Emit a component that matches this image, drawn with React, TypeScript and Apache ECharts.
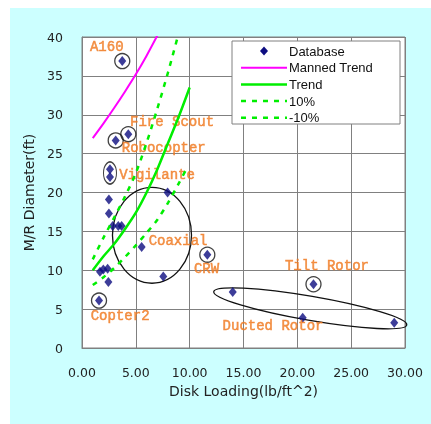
import React, { useEffect, useRef } from 'react';
import * as echarts from 'echarts';

// Rotor database: disk loading (lb/ft^2) vs main-rotor diameter (ft)
const diskLoading = [3.74, 3.13, 4.3, 2.6, 2.6, 7.95, 2.5, 2.5, 2.85, 3.37, 3.68, 5.54, 11.64, 1.67, 1.98, 2.38, 2.45, 7.55, 1.58, 14.0, 21.5, 20.5, 29.0];
const rotorDiameter = [36.9, 26.7, 27.5, 23.0, 22.0, 20.0, 19.1, 17.3, 15.7, 15.7, 15.7, 13.0, 12.0, 9.8, 10.1, 10.2, 8.5, 9.2, 6.1, 7.2, 8.2, 3.9, 3.25];

// Circled reference aircraft
const circledX = [3.74, 3.13, 4.3, 11.64, 1.58, 21.5];
const circledY = [36.9, 26.7, 27.5, 12.0, 6.1, 8.2];

// Trend curves [disk loading, diameter]
const mannedTrend = [[1, 27.0], [2, 28.9], [3, 30.9], [4, 33.0], [5, 35.2], [6, 37.6], [7, 40.2]];
const trend = [[1, 10.0], [2, 11.8], [3, 13.4], [4, 15.3], [5, 17.4], [6, 20.0], [7, 23.0], [8, 26.4], [9, 29.8], [10, 33.5]];
const plus10 = [[1, 11.4], [2, 14.2], [3, 16.8], [4, 19.5], [5, 22.5], [6, 26.4], [7, 30.8], [8, 35.5], [9, 40.6]];
const minus10 = [[1, 8.1], [2, 9.1], [3, 10.3], [4, 11.7], [5, 13.2], [6, 14.8], [7, 16.5], [8, 18.7], [9, 21.2], [9.8, 23.3]];

// Group outlines: centre (x, y), semi-axes in data units, tilt in degrees
const groupEllipses = [
  [6.5, 14.5, 3.67, 6.17, 0],
  [21.2, 5.1, 9.1, 1.55, -9.8],
];
// Vigilante pair outline centre
const vigilanteCentre = [[2.6, 22.5]];

// Aircraft names, anchored at their left edge
const annotations = [
  { name: 'A160', x: 0.74, y: 38.7 },
  { name: 'Fire Scout', x: 4.46, y: 29.1 },
  { name: 'Robocopter', x: 3.69, y: 25.7 },
  { name: 'Vigilante', x: 3.46, y: 22.2 },
  { name: 'Coaxial', x: 6.19, y: 13.8 },
  { name: 'CRW', x: 10.4, y: 10.1 },
  { name: 'Copter2', x: 0.81, y: 4.1 },
  { name: 'Tilt Rotor', x: 18.85, y: 10.5 },
  { name: 'Ducted Rotor', x: 13.06, y: 2.83 },
];

const legendNames = ['Database', 'Manned Trend', 'Trend', '10%', '-10%'];

const NAVY = '#0c0c80';
const MAGENTA = '#ff00ff';
const GREEN = '#00ee00';
const ORANGE = '#f07a22';
const GRID = '#808080';
const DASH = [5, 6];

export default function App() {
  const ref = useRef<HTMLDivElement>(null);

  useEffect(() => {
    if (!ref.current) return;
    const chart = echarts.init(ref.current, undefined, { renderer: 'svg' });

    const legendX = 232;
    const legendY = 41;
    const rowH = 16.7;
    const legendGraphics: any[] = [
      {
        type: 'rect',
        shape: { x: legendX, y: legendY, width: 168, height: 83 },
        style: { fill: '#ffffff', stroke: '#808080', lineWidth: 1 },
        z: 10,
      },
      {
        type: 'polygon',
        shape: { points: [[264, 46.5], [268, 51], [264, 55.5], [260, 51]] },
        style: { fill: NAVY },
        z: 11,
      },
    ];
    const lineRows = [
      { color: MAGENTA, dash: null, width: 2 },
      { color: GREEN, dash: null, width: 2.5 },
      { color: GREEN, dash: DASH, width: 2.5 },
      { color: GREEN, dash: DASH, width: 2.5 },
    ];
    lineRows.forEach((r, i) => {
      const y = 51 + rowH * (i + 1);
      legendGraphics.push({
        type: 'line',
        shape: { x1: 241, y1: y, x2: 287, y2: y },
        style: { stroke: r.color, lineWidth: r.width, lineDash: r.dash || undefined },
        z: 11,
      });
    });
    legendNames.forEach((n, i) => {
      legendGraphics.push({
        type: 'text',
        x: 289,
        y: 51 + rowH * i,
        style: {
          text: n,
          fill: '#111',
          font: '13px "Liberation Sans", Arial, sans-serif',
          textVerticalAlign: 'middle',
          textAlign: 'left',
        },
        z: 11,
      });
    });

    const ring = {
      color: 'rgba(0,0,0,0)',
      borderColor: '#111',
      borderWidth: 1.3,
    };

    const option: any = {
      animation: false,
      graphic: [
        {
          type: 'rect',
          shape: { x: 10, y: 8, width: 421, height: 416 },
          style: { fill: '#ccffff' },
          z: -10,
          silent: true,
        },
        ...legendGraphics,
      ],
      grid: {
        left: 82,
        top: 37,
        width: 323,
        height: 311,
        show: true,
        backgroundColor: '#ffffff',
        borderColor: GRID,
        borderWidth: 1,
      },
      xAxis: {
        type: 'value',
        min: 0,
        max: 30,
        interval: 5,
        name: 'Disk Loading(lb/ft^2)',
        nameLocation: 'middle',
        nameGap: 36,
        nameTextStyle: { fontFamily: 'DejaVu Sans', fontSize: 14, color: '#222' },
        axisLine: { show: true, lineStyle: { color: GRID } },
        axisTick: { show: false },
        axisLabel: {
          margin: 18,
          fontFamily: 'DejaVu Sans',
          fontSize: 12.5,
          color: '#222',
          formatter: (v: number) => v.toFixed(2),
        },
        splitLine: { show: true, lineStyle: { color: GRID, width: 1 } },
      },
      yAxis: {
        type: 'value',
        min: 0,
        max: 40,
        interval: 5,
        name: 'M/R Diameter(ft)',
        nameLocation: 'middle',
        nameGap: 42,
        nameTextStyle: { fontFamily: 'DejaVu Sans', fontSize: 14, color: '#222' },
        axisLine: { show: true, lineStyle: { color: GRID } },
        axisTick: { show: false },
        axisLabel: { margin: 19, fontFamily: 'DejaVu Sans', fontSize: 12.5, color: '#222' },
        splitLine: { show: true, lineStyle: { color: GRID, width: 1 } },
      },
      series: [
        {
          name: 'Manned Trend',
          type: 'line',
          data: mannedTrend,
          smooth: 0.3,
          showSymbol: false,
          lineStyle: { color: MAGENTA, width: 2 },
          silent: true,
        },
        {
          name: 'Trend',
          type: 'line',
          data: trend,
          smooth: 0.3,
          showSymbol: false,
          lineStyle: { color: GREEN, width: 2.5 },
          silent: true,
        },
        {
          name: '10%',
          type: 'line',
          data: plus10,
          smooth: 0.3,
          showSymbol: false,
          lineStyle: { color: GREEN, width: 2.5, type: DASH },
          silent: true,
        },
        {
          name: '-10%',
          type: 'line',
          data: minus10,
          smooth: 0.3,
          showSymbol: false,
          lineStyle: { color: GREEN, width: 2.5, type: DASH },
          silent: true,
        },
        {
          name: 'groups',
          type: 'custom',
          silent: true,
          clip: false,
          data: groupEllipses,
          encode: { x: 0, y: 1 },
          renderItem: (params: any, api: any) => {
            const c = api.coord([api.value(0), api.value(1)]);
            const s = api.size([api.value(2), api.value(3)]);
            return {
              type: 'ellipse',
              x: c[0],
              y: c[1],
              rotation: (api.value(4) * Math.PI) / 180,
              shape: { cx: 0, cy: 0, rx: s[0], ry: s[1] },
              style: { fill: 'none', stroke: '#111', lineWidth: 1.3 },
            };
          },
        },
        {
          name: 'Vigilante outline',
          type: 'scatter',
          silent: true,
          data: vigilanteCentre,
          symbol: 'circle',
          symbolSize: [13, 22],
          itemStyle: ring,
        },
        {
          name: 'circled',
          type: 'scatter',
          silent: true,
          data: circledX.map((x, i) => [x, circledY[i]]),
          symbol: 'circle',
          symbolSize: 15,
          itemStyle: ring,
        },
        {
          name: 'Database',
          type: 'scatter',
          silent: true,
          data: diskLoading.map((x, i) => [x, rotorDiameter[i]]),
          symbol: 'diamond',
          symbolSize: [8, 10],
          itemStyle: { color: NAVY },
        },
        {
          name: 'names',
          type: 'scatter',
          silent: true,
          data: annotations.map((a) => ({ name: a.name, value: [a.x, a.y] })),
          symbolSize: 0,
          itemStyle: { color: 'rgba(0,0,0,0)' },
          label: {
            show: true,
            position: 'right',
            distance: 0,
            formatter: '{b}',
            fontFamily: '"Liberation Mono", "Courier New", monospace',
            fontSize: 14,
            color: ORANGE,
            textBorderColor: ORANGE,
            textBorderWidth: 0.5,
          },
        },
      ],
    };

    chart.setOption(option);
    return () => chart.dispose();
  }, []);

  return (
    <div
      ref={ref}
      style={{ position: 'fixed', left: 0, top: 0, width: 431, height: 424 }}
    />
  );
}
